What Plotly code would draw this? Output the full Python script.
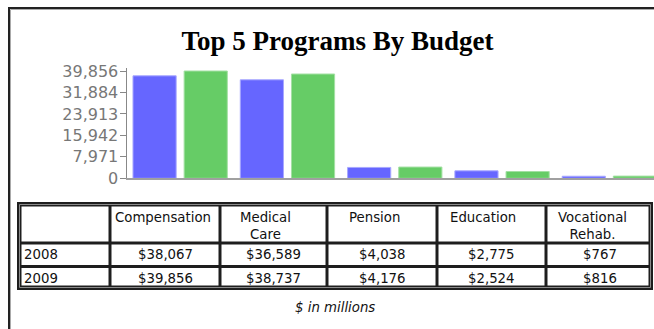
import plotly.graph_objects as go

# Budget data (millions of dollars)
programs = ["Compensation", "Medical Care", "Pension", "Education", "Vocational Rehab."]
header_labels = ["", "Compensation", "Medical<br>Care", "Pension", "Education", "Vocational<br>Rehab."]
years = ["2008", "2009"]
budget_2008 = [38067, 36589, 4038, 2775, 767]
budget_2009 = [39856, 38737, 4176, 2524, 816]

BLUE = "#6666ff"
GREEN = "#66cc66"
INK = "#1e1e1e"

W, H = 654, 329


def px(x):
    return x / W


def py(y):
    return 1 - y / H


# y ticks: five equal steps up to the largest budget
ymax = max(budget_2008 + budget_2009)
tickvals = [ymax * k / 5 for k in range(6)]
ticktext = [f"{int(v):,}" for v in tickvals]

# vertical scale: 0 at y=178.3px, ymax at y=71px
unit = ymax / (178.3 - 71.0)
ytop = 68.0
yrange_top = (178.3 - ytop) * unit

period = 107.3
x0_axis = 126.5
xrange_right = -0.5 + (W - x0_axis) / period

fig = go.Figure()
fig.add_trace(go.Bar(
    x=list(range(len(programs))), y=budget_2008, name=years[0],
    marker=dict(color=BLUE, line=dict(color="#a8a8ff", width=1)),
    hoverinfo="skip",
))
fig.add_trace(go.Bar(
    x=list(range(len(programs))), y=budget_2009, name=years[1],
    marker=dict(color=GREEN, line=dict(color="#a3e0a3", width=1)),
    hoverinfo="skip",
))

# ---- data table under the chart (pixel layout) ----
col_edges = [17, 110, 220, 327, 437, 546, 653]
row_edges = [202, 243, 266.5, 290]
header_dx = [0, -2, -8.5, -8, -8.5, -7.5]
outer_inset, inner_gap = 4.5, 1.5

shapes = [
    # outer frame of the chart
    dict(type="rect", xref="paper", yref="paper",
         x0=px(9), x1=1.1, y0=-0.1, y1=py(8),
         line=dict(color="#222", width=2), layer="below"),
    dict(type="rect", xref="paper", yref="paper",
         x0=px(10.5), x1=1.1, y0=-0.1, y1=py(9.5),
         line=dict(color="#aaa", width=1), layer="below"),
    # dark table body; cells are laid on top of it
    dict(type="rect", xref="paper", yref="paper",
         x0=px(col_edges[0]), x1=px(col_edges[-1]),
         y0=py(row_edges[-1]), y1=py(row_edges[0]),
         line=dict(width=0), fillcolor=INK, layer="below"),
    dict(type="rect", xref="paper", yref="paper",
         x0=px(col_edges[0] + 2.5), x1=px(col_edges[-1] - 2.5),
         y0=py(row_edges[-1] - 2.5), y1=py(row_edges[0] + 2.5),
         line=dict(color="#8a8a8a", width=1), layer="below"),
]

ncol = len(col_edges) - 1
nrow = len(row_edges) - 1
for i in range(ncol):
    xl = col_edges[i] + (outer_inset if i == 0 else inner_gap)
    xr = col_edges[i + 1] - (outer_inset if i == ncol - 1 else inner_gap)
    for j in range(nrow):
        yt = row_edges[j] + (outer_inset if j == 0 else inner_gap)
        yb = row_edges[j + 1] - (outer_inset if j == nrow - 1 else inner_gap)
        shapes.append(dict(
            type="rect", xref="paper", yref="paper",
            x0=px(xl), x1=px(xr), y0=py(yb), y1=py(yt),
            line=dict(width=0), fillcolor="white", layer="below",
        ))

table_font = dict(family="DejaVu Sans", size=13.3, color="#111")
annotations = []

# header row
for i, label in enumerate(header_labels):
    if not label:
        continue
    cx = (col_edges[i] + col_edges[i + 1]) / 2 + header_dx[i]
    annotations.append(dict(
        text=label, x=px(cx), y=py(207.5), xref="paper", yref="paper",
        xanchor="center", yanchor="top", showarrow=False, font=table_font,
    ))

# one row per year
series = [budget_2008, budget_2009]
for j, (year, values) in enumerate(zip(years, series)):
    cy = (row_edges[j + 1] + row_edges[j + 2]) / 2
    annotations.append(dict(
        text=year, x=px(col_edges[0] + 5), y=py(cy), xref="paper", yref="paper",
        xanchor="left", yanchor="middle", showarrow=False, font=table_font,
    ))
    for i, v in enumerate(values):
        cx = (col_edges[i + 1] + col_edges[i + 2]) / 2
        annotations.append(dict(
            text=f"${v:,}", x=px(cx), y=py(cy), xref="paper", yref="paper",
            xanchor="center", yanchor="middle", showarrow=False, font=table_font,
        ))

annotations.append(dict(
    text="<i>$ in millions</i>",
    x=px(335), y=py(307), xref="paper", yref="paper",
    xanchor="center", yanchor="middle", showarrow=False,
    font=dict(family="DejaVu Sans", size=13.3, color="#111"),
))

fig.update_layout(
    width=W, height=H,
    margin=dict(l=0, r=0, t=0, b=0, autoexpand=False),
    paper_bgcolor="white", plot_bgcolor="rgba(0,0,0,0)",
    showlegend=False,
    barmode="group",
    bargap=5 / period,
    bargroupgap=0.156,
    title=dict(
        text="<b>Top 5 Programs By Budget</b>",
        font=dict(family="Liberation Serif", size=27, color="black"),
        x=px(337.5), xanchor="center", xref="paper",
        y=py(41), yanchor="middle", yref="paper",
    ),
    xaxis=dict(
        domain=[px(x0_axis), 1],
        range=[-0.5, xrange_right],
        showticklabels=False, ticks="", showgrid=False, zeroline=False,
        showline=True, linecolor="#a0a0a0", linewidth=2,
        fixedrange=True, automargin=False,
    ),
    yaxis=dict(
        domain=[py(178.3), py(ytop)],
        range=[0, yrange_top],
        tickvals=tickvals, ticktext=ticktext,
        ticks="outside", ticklen=6, tickcolor="#888", tickwidth=1,
        ticklabelstandoff=-2,
        tickfont=dict(family="DejaVu Sans", size=16, color="#777"),
        showgrid=False, zeroline=False,
        showline=True, linecolor="#888", linewidth=1,
        fixedrange=True, automargin=False,
    ),
    annotations=annotations,
    shapes=shapes,
)

fig.write_html("out.html")
